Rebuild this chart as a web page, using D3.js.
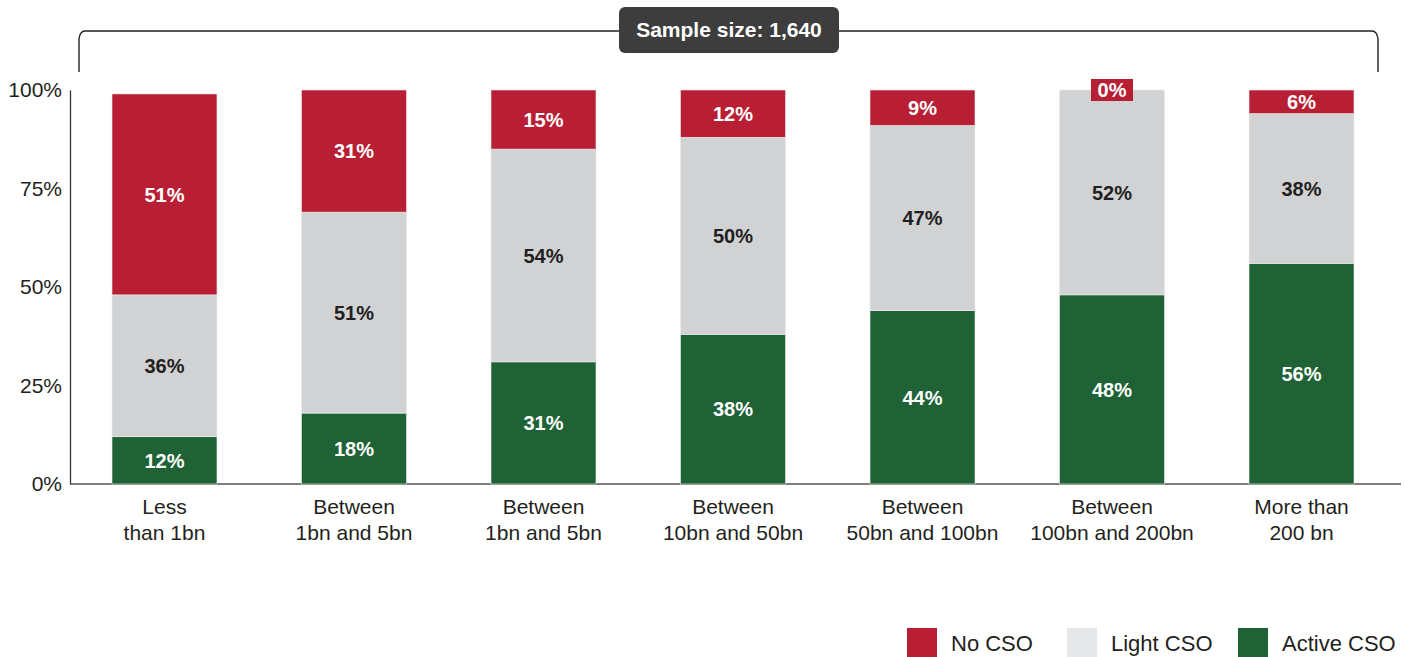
<!DOCTYPE html>
<html>
<head>
<meta charset="utf-8">
<script src="https://cdn.jsdelivr.net/npm/d3@7"></script>
<style>
  html, body { margin: 0; padding: 0; background: #fff; }
  svg { display: block; font-family: "Liberation Sans", Arial, Helvetica, sans-serif; }
</style>
</head>
<body>
<svg id="chart" width="1405" height="657"></svg>
<script>
const categories = [
  ["Less", "than 1bn"],
  ["Between", "1bn and 5bn"],
  ["Between", "1bn and 5bn"],
  ["Between", "10bn and 50bn"],
  ["Between", "50bn and 100bn"],
  ["Between", "100bn and 200bn"],
  ["More than", "200 bn"]
];
const activeCSO = [12, 18, 31, 38, 44, 48, 56];
const lightCSO  = [36, 51, 54, 50, 47, 52, 38];
const noCSO     = [51, 31, 15, 12, 9, 0, 6];
const yTicks = [0, 25, 50, 75, 100];
const seriesNames = ["No CSO", "Light CSO", "Active CSO"];
const sampleLabel = "Sample size: 1,640";

const colors = { active: "#1e6236", light: "#d1d2d4", no: "#b81f34", lightLegend: "#e6e7e9" };
const textColor = "#231f20";

const svg = d3.select("#chart");
const keys = categories.map((c, i) => i);

const x = d3.scaleBand().domain(keys).range([112, 1354]).paddingInner(0.446).paddingOuter(0);
const y = d3.scaleLinear().domain([0, 100]).range([484, 90]);

// axes
const yAxis = d3.axisLeft(y).tickValues(yTicks).tickFormat(d => d + "%").tickSize(0).tickPadding(8);
const gy = svg.append("g").attr("transform", "translate(70,0)").call(yAxis);
gy.select(".domain").attr("stroke", "#333").attr("stroke-width", 1.3);
gy.selectAll("text").attr("font-size", 21).attr("fill", textColor).attr("font-family", "Liberation Sans, Arial, sans-serif");

svg.append("line").attr("x1", 70).attr("x2", 1401).attr("y1", y(0)).attr("y2", y(0))
  .attr("stroke", "#555").attr("stroke-width", 1.5);

// stacked data
const rows = keys.map(i => ({ i, active: activeCSO[i], light: lightCSO[i], no: noCSO[i] }));
const stack = d3.stack().keys(["active", "light", "no"]);
const layers = stack(rows);

const g = svg.append("g");
layers.forEach(layer => {
  const k = layer.key;
  g.selectAll(null).data(layer).enter().append("rect")
    .attr("x", d => x(d.data.i))
    .attr("width", x.bandwidth())
    .attr("y", d => y(d[1]))
    .attr("height", d => y(d[0]) - y(d[1]))
    .attr("fill", colors[k])
    .attr("stroke", "#ececec").attr("stroke-width", 0.6);
});

// labels
layers.forEach(layer => {
  const k = layer.key;
  layer.forEach(d => {
    const v = d.data[k];
    const cx = x(d.data.i) + x.bandwidth() / 2;
    if (v === 0) {
      const ty = y(d[1]);
      svg.append("rect").attr("x", cx - 21).attr("y", ty - 11).attr("width", 42).attr("height", 22)
        .attr("fill", colors.no);
      svg.append("text").attr("x", cx).attr("y", ty).attr("dy", "0.36em")
        .attr("text-anchor", "middle").attr("font-size", 20).attr("font-weight", "bold")
        .attr("fill", "#fff").text(v + "%");
      return;
    }
    const cy = (y(d[0]) + y(d[1])) / 2;
    svg.append("text").attr("x", cx).attr("y", cy).attr("dy", "0.36em")
      .attr("text-anchor", "middle").attr("font-size", 20).attr("font-weight", "bold")
      .attr("fill", k === "light" ? textColor : "#fff").text(v + "%");
  });
});

// category labels
keys.forEach(i => {
  const cx = x(i) + x.bandwidth() / 2;
  const t = svg.append("text").attr("text-anchor", "middle").attr("font-size", 21).attr("fill", textColor);
  t.append("tspan").attr("x", cx).attr("y", 514).text(categories[i][0]);
  t.append("tspan").attr("x", cx).attr("y", 540).text(categories[i][1]);
});

// bracket
const bx0 = 79, bx1 = 1378, byTop = 31, byBot = 72;
svg.append("path")
  .attr("d", `M${bx0},${byBot} L${bx0},${byTop + 8} Q${bx0 + 1},${byTop} ${bx0 + 6},${byTop} L${bx1 - 6},${byTop} Q${bx1 - 1},${byTop} ${bx1},${byTop + 8} L${bx1},${byBot}`)
  .attr("fill", "none").attr("stroke", "#222").attr("stroke-width", 1.4);

svg.append("rect").attr("x", 619).attr("y", 7).attr("width", 220).attr("height", 46).attr("rx", 6)
  .attr("fill", "#3d3d3d");
svg.append("text").attr("x", 729).attr("y", 29).attr("dy", "0.36em").attr("text-anchor", "middle")
  .attr("font-size", 21).attr("font-weight", "bold").attr("fill", "#fff").text(sampleLabel);

// legend
const legendX = [907, 1067, 1238];
const legendColors = [colors.no, colors.lightLegend, colors.active];
seriesNames.forEach((n, i) => {
  svg.append("rect").attr("x", legendX[i]).attr("y", 628).attr("width", 30).attr("height", 29).attr("fill", legendColors[i]);
  svg.append("text").attr("x", legendX[i] + 44).attr("y", 643).attr("dy", "0.36em")
    .attr("font-size", 22).attr("fill", textColor).text(n);
});
</script>
</body>
</html>
